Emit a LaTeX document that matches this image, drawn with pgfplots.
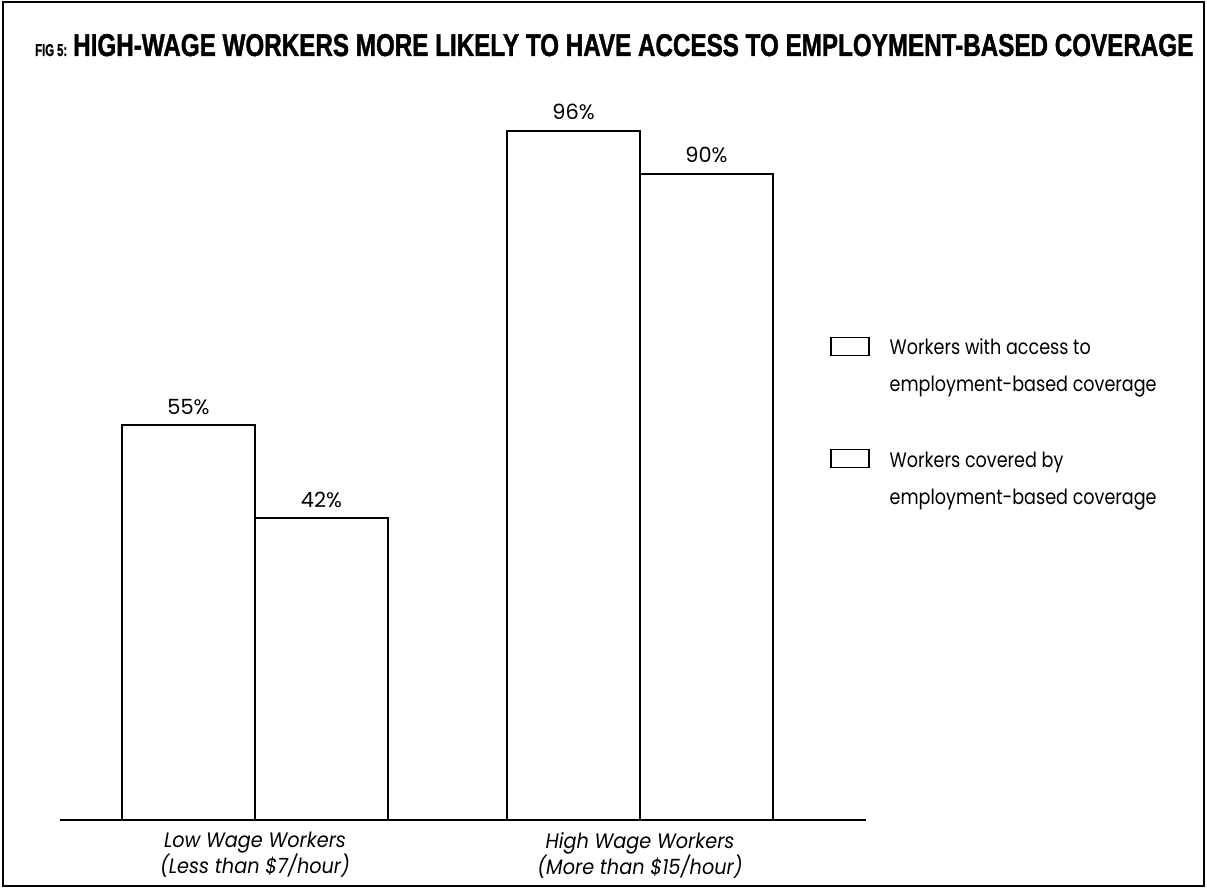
\documentclass[border=0pt]{standalone}
\usepackage{fontspec}
\setmainfont{Poppins}
\newfontfamily\legfont[FakeStretch=0.84]{Poppins}
\newfontfamily\labfont[FakeStretch=0.92]{Poppins}
\newfontfamily\titlefont{Liberation Sans}[BoldFeatures={FakeBold=1.5}]
\usepackage{graphicx}
\usepackage{pgfplots}
\pgfplotsset{compat=1.18}
\begin{document}
\begin{tikzpicture}
\path[use as bounding box] (0,0) rectangle (1207bp,888bp);
\draw[line width=2bp] (3bp,2bp) rectangle (1204bp,886bp);
\node[anchor=base west, inner sep=0pt] at (35bp,832bp)
  {\resizebox{32bp}{12bp}{\titlefont\bfseries FIG 5:}\hspace{6bp}\resizebox{1120bp}{22bp}{\titlefont\bfseries HIGH-WAGE WORKERS MORE LIKELY TO HAVE ACCESS TO EMPLOYMENT-BASED COVERAGE}};
\begin{axis}[
  at={(60bp,68bp)}, anchor=south west,
  scale only axis, width=806bp, height=718bp,
  xmin=-0.5065, xmax=1.587, ymin=0, ymax=100,
  axis x line*=bottom, axis y line=none,
  x axis line style={line width=2bp,-},
  xtick={0,1}, major tick length=0pt,
  xticklabels={{Low Wage Workers\\(Less than \$7/hour)},{High Wage Workers\\(More than \$15/hour)}},
  xticklabel style={align=center, anchor=north, inner sep=0pt, yshift=-12bp,
     font=\labfont\fontsize{21}{26}\selectfont\itshape},
  clip=false,
  every node near coord/.style={anchor=base, yshift=11bp, inner sep=0pt, font=\fontsize{21}{25}\selectfont},
  nodes near coords={\pgfmathprintnumber[assume math mode=true]{\pgfplotspointmeta}\%},
  legend style={draw=none, fill=none, at={(0.9553,0.6734)}, anchor=north west,
     inner sep=0pt, column sep=20bp, row sep=16bp,
     nodes={inner sep=0pt, text height=17bp, text depth=4bp, font=\legfont\fontsize{21}{25}\selectfont}},
  legend cell align=left,
]
\addplot[ybar, bar width=0.3455, bar shift=0pt, draw=black, line width=2bp, fill=white, forget plot]
  coordinates {(-0.17275,55) (0.82725,96)};
\addplot[ybar, bar width=0.3455, bar shift=0pt, draw=black, line width=2bp, fill=white, forget plot]
  coordinates {(0.17275,42) (1.17275,90)};
\addlegendimage{legend image code/.code={\draw[line width=1.5bp, fill=white] (0bp,-7bp) rectangle (38bp,11bp);}}
\addlegendentry{Workers with access to}
\addlegendimage{legend image code/.code={}}
\addlegendentry{employment-based coverage}
\addlegendimage{legend image code/.code={}}
\addlegendentry{}
\addlegendimage{legend image code/.code={\draw[line width=1.5bp, fill=white] (0bp,-7bp) rectangle (38bp,11bp);}}
\addlegendentry{Workers covered by}
\addlegendimage{legend image code/.code={}}
\addlegendentry{employment-based coverage}
\end{axis}
\end{tikzpicture}
\end{document}
